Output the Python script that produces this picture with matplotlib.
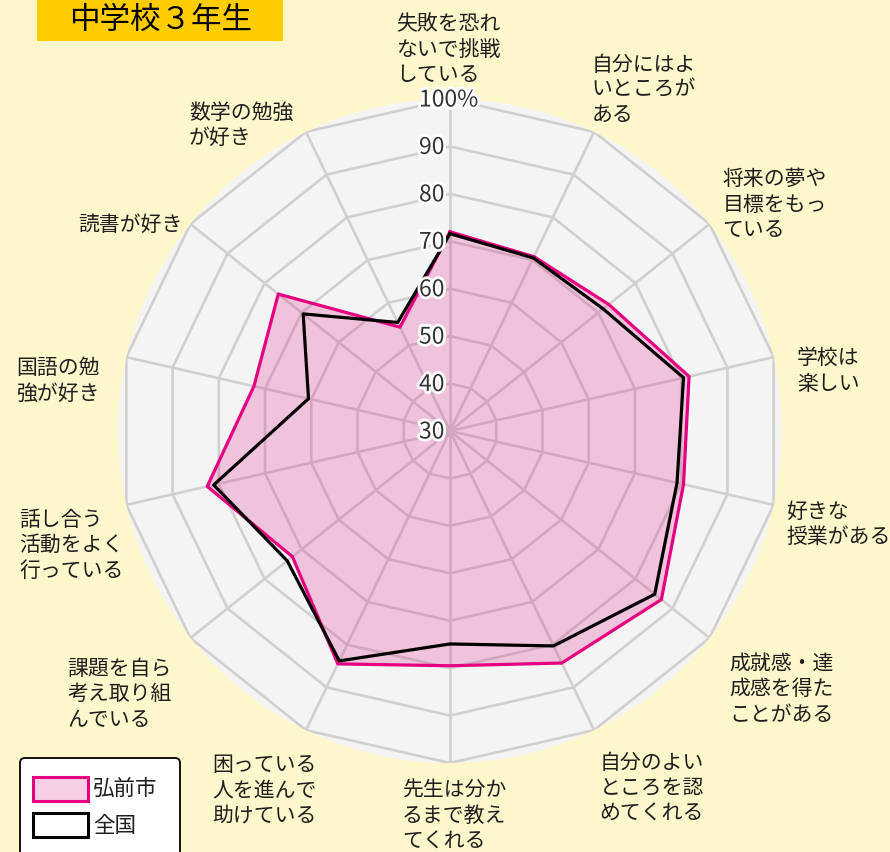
import numpy as np
import matplotlib

matplotlib.use("Agg")
import matplotlib.pyplot as plt
from matplotlib import patheffects
from matplotlib.patches import FancyBboxPatch, Rectangle
from matplotlib.transforms import offset_copy

plt.rcParams["font.family"] = ["Noto Sans CJK JP", "DejaVu Sans"]

# --- data -------------------------------------------------------------
TITLE = "中学校３年生"
SERIES_NAMES = ["弘前市", "全国"]
ITEMS = [
    "失敗を恐れ\nないで挑戦\nしている",
    "自分にはよ\nいところが\nある",
    "将来の夢や\n目標をもっ\nている",
    "学校は\n楽しい",
    "好きな\n授業がある",
    "成就感・達\n成感を得た\nことがある",
    "自分のよい\nところを認\nめてくれる",
    "先生は分か\nるまで教え\nてくれる",
    "困っている\n人を進んで\n助けている",
    "課題を自ら\n考え取り組\nんでいる",
    "話し合う\n活動をよく\n行っている",
    "国語の勉\n強が好き",
    "読書が好き",
    "数学の勉強\nが好き",
]
HIROSAKI = [72.0, 70.8, 72.8, 81.7, 80.5, 87.0, 84.3, 79.5, 84.5, 72.5, 82.5, 72.4, 76.3, 54.3]
NATIONAL = [71.6, 70.5, 71.3, 80.5, 79.1, 85.2, 80.3, 74.9, 83.8, 73.9, 81.1, 60.6, 69.6, 55.4]
LEVELS = [30, 40, 50, 60, 70, 80, 90, 100]
LEVEL_LABELS = ["30", "40", "50", "60", "70", "80", "90", "100%"]

# --- style / layout ---------------------------------------------------
BG = "#fff7cc"
DISC = "#f4f4f4"
GRID = "#d0d0d0"
PINK = "#e4007f"
TITLE_BG = "#ffcc00"
TEXT = "#1e1e1e"
W, H = 890, 853
CX, CY, R = 450, 432, 332
LABEL_R = 102.7
# pixel nudges for the point labels (dx right, dy down)
LABEL_NUDGE = [(-2, -1), (-8, 5), (3, 24), (11, -8), (0, -8), (10, 6), (0, 9),
               (4, 3), (16, 11), (-9, 11), (10, 0), (-14, 2), (2, -3), (-7, 28)]


def main() -> None:
    fig = plt.figure(figsize=(W / 100, H / 100), dpi=100)
    fig.patch.set_facecolor(BG)

    ax = fig.add_axes([(CX - R) / W, (H - CY - R) / H, 2 * R / W, 2 * R / H], projection="polar")
    ax.set_theta_zero_location("N")
    ax.set_theta_direction(-1)
    ax.set_ylim(LEVELS[0], LEVELS[-1])
    ax.set_facecolor(DISC)
    ax.grid(False)
    ax.set_xticks([])
    ax.set_yticks([])
    ax.spines["polar"].set_visible(False)

    n = len(ITEMS)
    theta = np.linspace(0, 2 * np.pi, n, endpoint=False)
    closed = np.append(theta, theta[0])

    for level in LEVELS[1:]:
        ax.plot(closed, [level] * (n + 1), color=GRID, lw=1.9, zorder=1)
    for t in theta:
        ax.plot([t, t], [LEVELS[0], LEVELS[-1]], color=GRID, lw=1.9, zorder=1)

    hiro = np.append(HIROSAKI, HIROSAKI[0])
    nat = np.append(NATIONAL, NATIONAL[0])
    ax.fill(closed, hiro, color=PINK, alpha=0.2, lw=0, zorder=2)
    ax.plot(closed, hiro, color=PINK, lw=2.3, zorder=3)
    ax.plot(closed, nat, color="black", lw=2.3, zorder=4)

    outline = [patheffects.withStroke(linewidth=4, foreground="white")]
    tick_tr = offset_copy(ax.transData, fig=fig, x=-31, y=-1, units="dots")
    for level, label in zip(LEVELS, LEVEL_LABELS):
        ax.text(0, level, label, transform=tick_tr, ha="left", va="center",
                fontsize=16.5, color="#333333", path_effects=outline, zorder=6)

    for i, (t, label) in enumerate(zip(theta, ITEMS)):
        deg = np.degrees(t)
        if np.isclose(deg, 0) or np.isclose(deg, 180):
            ha = "center"
        elif deg < 180:
            ha = "left"
        else:
            ha = "right"
        va = "bottom" if deg < 60 or deg > 330 else "top"
        dx, dy = LABEL_NUDGE[i]
        tr = offset_copy(ax.transData, fig=fig, x=dx, y=-dy, units="dots")
        ax.text(t, LABEL_R, label, transform=tr, ha=ha, va=va, multialignment="left",
                fontsize=15, linespacing=1.2, color=TEXT, clip_on=False)

    # overlay for title box and legend, in pixel units
    ov = fig.add_axes([0, 0, 1, 1])
    ov.set_xlim(0, W)
    ov.set_ylim(H, 0)
    ov.axis("off")

    ov.add_patch(Rectangle((37, 0), 246, 42, facecolor=TITLE_BG, edgecolor="none"))
    ov.text(161, 20, TITLE, ha="center", va="center", fontsize=22, color="black")

    ov.add_patch(FancyBboxPatch((20, 759), 160, 120, boxstyle="round,pad=0,rounding_size=5",
                                facecolor="white", edgecolor="black", lw=1.3))
    ov.add_patch(Rectangle((33, 778), 55, 24, facecolor="#f7cfe5", edgecolor=PINK, lw=2.2))
    ov.add_patch(Rectangle((33, 814), 55, 24, facecolor="white", edgecolor="black", lw=2.2))
    ov.text(93, 790, SERIES_NAMES[0], ha="left", va="center", fontsize=15.5, color=TEXT)
    ov.text(93, 826, SERIES_NAMES[1], ha="left", va="center", fontsize=15.5, color=TEXT)

    fig.savefig("out.png", dpi=100, facecolor=BG)
    plt.close(fig)


if __name__ == "__main__":
    main()
